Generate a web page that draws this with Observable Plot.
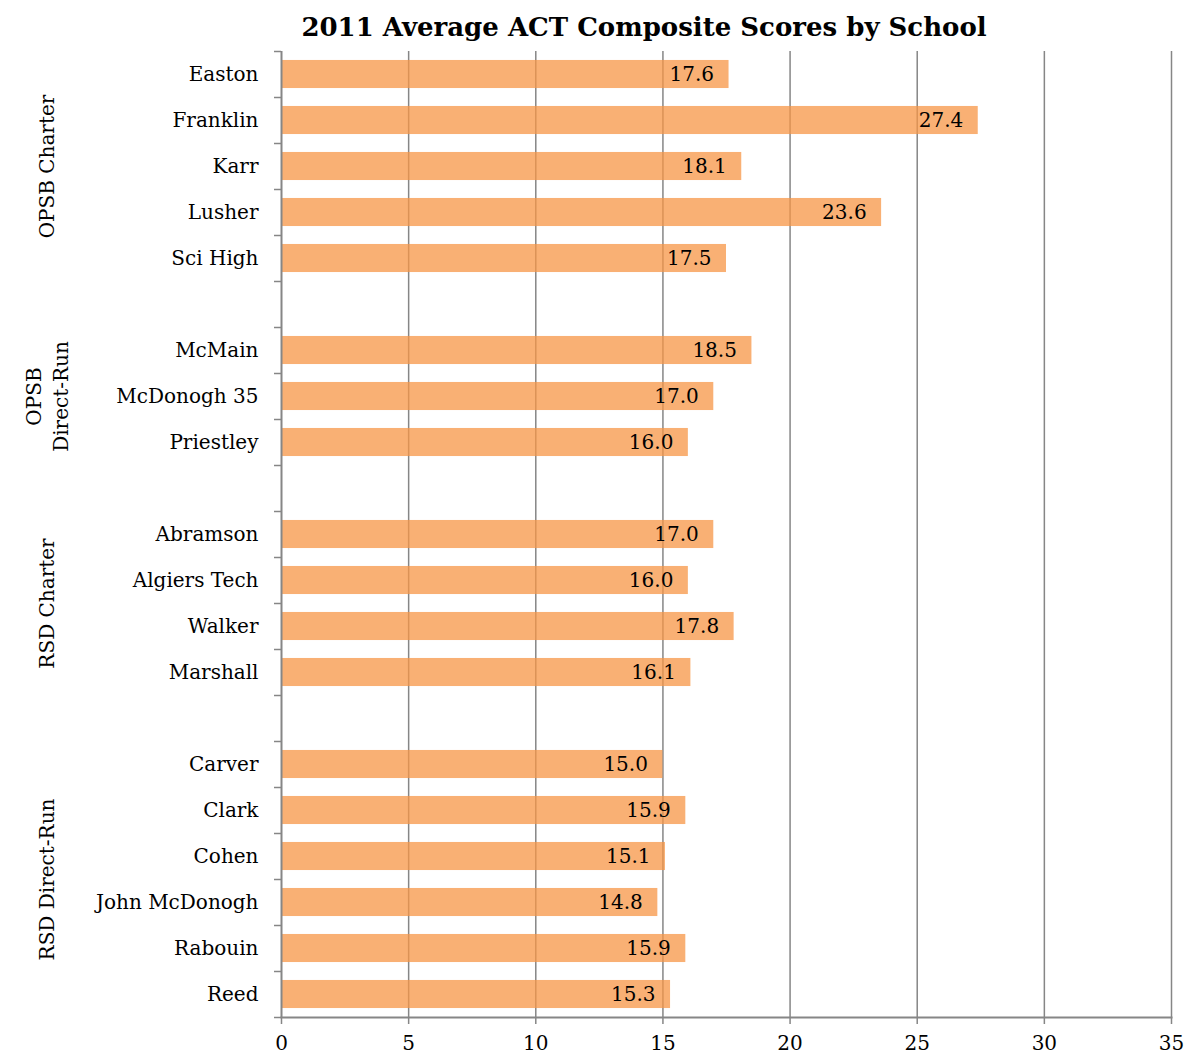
<!DOCTYPE html>
<html>
<head>
<meta charset="utf-8">
<script src="https://cdn.jsdelivr.net/npm/d3@7"></script>
<script src="https://cdn.jsdelivr.net/npm/@observablehq/plot@0.6"></script>
<style>
  html, body { margin: 0; padding: 0; background: #fff; }
  #title { width: 1188px; height: 48px; box-sizing: border-box; padding-left: 100px; text-align: center;
    font-family: "DejaVu Serif", serif; font-weight: bold; font-size: 26px; line-height: 54px; color: #000; }
</style>
</head>
<body>
<div id="title">2011 Average ACT Composite Scores by School</div>
<div id="chart"></div>
<script>
const schools = ["Easton", "Franklin", "Karr", "Lusher", "Sci High",
  "McMain", "McDonogh 35", "Priestley",
  "Abramson", "Algiers Tech", "Walker", "Marshall",
  "Carver", "Clark", "Cohen", "John McDonogh", "Rabouin", "Reed"];
const scores = [17.6, 27.4, 18.1, 23.6, 17.5,
  18.5, 17.0, 16.0,
  17.0, 16.0, 17.8, 16.1,
  15.0, 15.9, 15.1, 14.8, 15.9, 15.3];
const groups = ["OPSB Charter", "OPSB\nDirect-Run", "RSD Charter", "RSD Direct-Run"];
const groupSizes = [5, 3, 4, 6];
const xTicks = [0, 5, 10, 15, 20, 25, 30, 35];

const rows = [];
let idx = 0, k = 0;
groupSizes.forEach((n, g) => {
  for (let j = 0; j < n; j++) {
    rows.push({school: schools[k], score: scores[k], group: groups[g], i: idx});
    k++; idx++;
  }
  if (g < groupSizes.length - 1) idx++;
});
const nRows = idx;
const groupRows = groups.map(g => {
  const r = rows.filter(d => d.group === g);
  return {group: g, i: (r[0].i + r[r.length - 1].i) / 2};
});
const boundaries = d3.range(nRows + 1).map(v => v - 0.5);
const nameOf = new Map(rows.map(d => [d.i, d.school]));
const gray = "#868686";

const chart = Plot.plot({
  width: 1188,
  height: 1009,
  marginTop: 3,
  marginBottom: 40,
  marginLeft: 281,
  marginRight: 17,
  x: {domain: [0, 35], label: null},
  y: {domain: [-0.5, nRows - 0.5], reverse: true, axis: null, label: null},
  style: {fontFamily: "DejaVu Serif", fontSize: "20px", color: "#000", background: "#fff", overflow: "visible"},
  marks: [
    Plot.ruleX(xTicks.filter(v => v > 0), {stroke: gray, strokeWidth: 1.5}),
    Plot.rectX(rows, {x1: 0, x2: "score", y1: d => d.i - 0.305, y2: d => d.i + 0.305, fill: "#F79646", fillOpacity: 0.75}),
    Plot.text(rows, {x: "score", y: "i", text: d => d.score.toFixed(1), textAnchor: "end", dx: -15, fontSize: 20}),
    Plot.axisY(rows.map(d => d.i), {anchor: "left", label: null, tickSize: 0, tickPadding: 23, tickFormat: i => nameOf.get(i), fontSize: 20}),
    Plot.axisY(boundaries, {anchor: "left", label: null, tickSize: 7, tickFormat: () => "", stroke: gray, strokeWidth: 1.5}),
    Plot.axisX(xTicks, {anchor: "bottom", label: null, tickSize: 7, tickPadding: 11, stroke: gray, strokeWidth: 1.5, fontSize: 20}),
    Plot.ruleX([0], {stroke: gray, strokeWidth: 2}),
    Plot.frame({anchor: "bottom", stroke: gray, strokeWidth: 2}),
    Plot.text(groupRows, {y: "i", text: "group", frameAnchor: "left", textAnchor: "middle", dx: -236, rotate: -90, lineAnchor: "middle", lineHeight: 1.35, fontSize: 20})
  ]
});
document.getElementById("chart").appendChild(chart);
</script>
</body>
</html>
